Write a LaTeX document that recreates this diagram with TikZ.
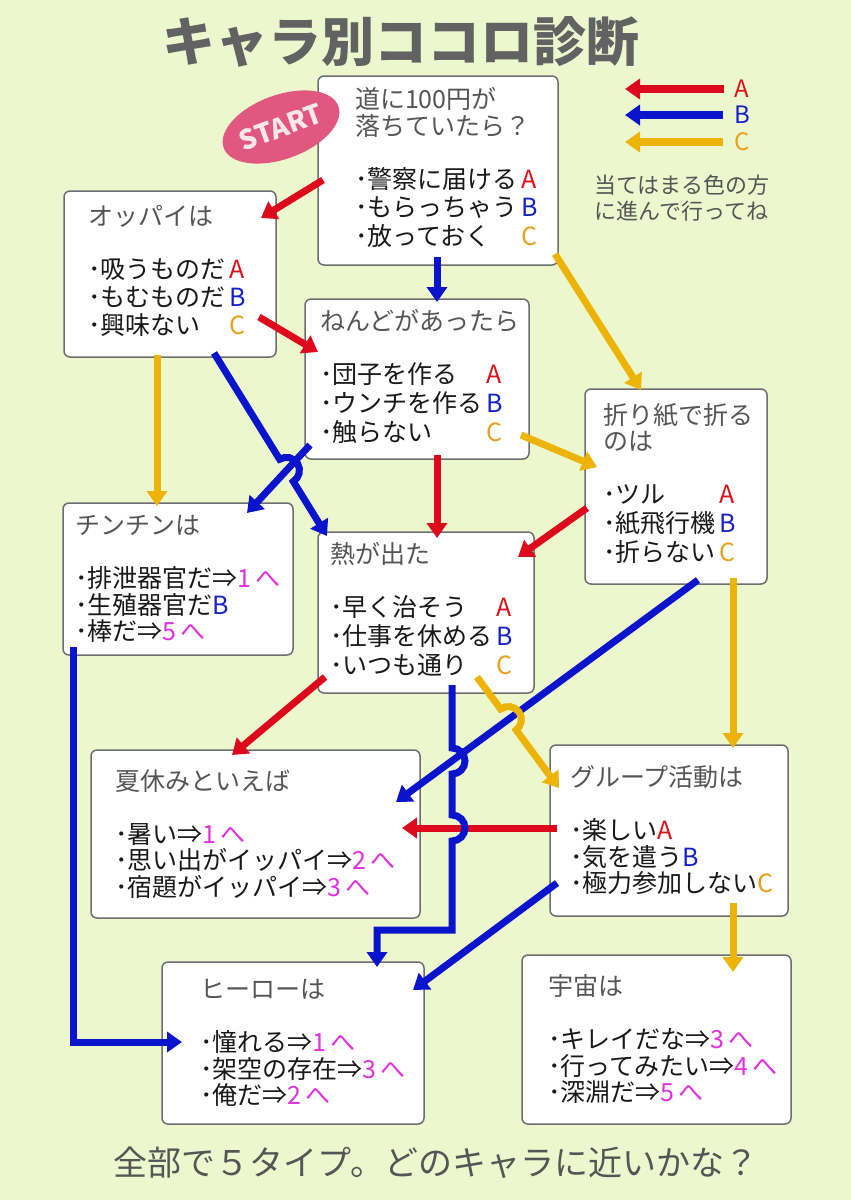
\documentclass[tikz,border=0pt]{standalone}
\usepackage{fontspec}
\setmainfont{Noto Sans CJK JP}
\usetikzlibrary{arrows.meta,calc,shapes.geometric}
\definecolor{bgcolor}{HTML}{EDF7CE}
\definecolor{cred}{HTML}{DC0A1C}
\definecolor{cblue}{HTML}{0A14CC}
\definecolor{cyellow}{HTML}{EEB405}
\definecolor{ansred}{HTML}{E0101A}
\definecolor{ansblue}{HTML}{1420CC}
\definecolor{ansorange}{HTML}{E8A21E}
\definecolor{cmag}{HTML}{E030DF}
\definecolor{headgray}{HTML}{555555}
\definecolor{titlegray}{HTML}{626262}
\definecolor{boxgray}{HTML}{6E6E6E}
\definecolor{startpink}{HTML}{E0577F}
\definecolor{startwhite}{HTML}{FBE6EC}
\newcommand{\ansA}{{\color{ansred}A}}
\newcommand{\ansB}{{\color{ansblue}B}}
\newcommand{\ansC}{{\color{ansorange}C}}
\newcommand{\gonum}[1]{{\color{cmag}#1\,へ}}
\newcommand{\qhead}[1]{{\color{headgray}#1}}
\newcommand{\hoprad}{13pt}

\tikzset{
  qbox/.style={draw=boxgray, fill=white, line width=1.5pt, rounded corners=6pt,
    align=left, inner ysep=0pt, text=black!90, font=\fontsize{25}{26.5}\selectfont},
  arr/.style={line width=7pt, -{Triangle[length=15pt,width=20pt]}},
  redarr/.style={arr, draw=cred},
  bluearr/.style={arr, draw=cblue},
  yelarr/.style={arr, draw=cyellow},
  titletext/.style={font=\bfseries\fontsize{53}{60}\selectfont},
}

\begin{document}
\begin{tikzpicture}[x=1pt,y=-1pt]
\useasboundingbox (0,0) rectangle (851,1200);
\fill[bgcolor] (0,0) rectangle (851,1200);

% title
\node[titletext, text=titlegray] (title) at (401,42) {キャラ別ココロ診断};

% boxes
\node[qbox, minimum height=189pt, inner xsep=37pt, text width=166pt] (q1) at (438,170.5) {%
\qhead{道に100円が}\\ \qhead{落ちていたら？}\\[26.5pt]
\begin{tabular}[t]{@{}l@{\,}l@{}}
･警察に届ける&\ansA\\
･もらっちゃう&\ansB\\
･放っておく&\ansC
\end{tabular}};
\node[qbox, minimum height=166pt, inner xsep=24pt, text width=164pt] (op) at (170,274) {%
\qhead{オッパイは}\\[26.5pt]
\begin{tabular}[t]{@{}l@{\,}l@{}}
･吸うものだ&\ansA\\
･もむものだ&\ansB\\
･興味ない&\ansC
\end{tabular}};
\node[qbox, minimum height=160pt, inner xsep=15pt, text width=194pt] (ne) at (417,379) {%
\qhead{ねんどがあったら}\\[26.5pt]
\begin{tabular}[t]{@{}l@{\,}l@{}}
･団子を作る&\ansA\\
･ウンチを作る&\ansB\\
･触らない&\ansC
\end{tabular}};
\node[qbox, minimum height=195pt, inner xsep=18pt, text width=146pt] (or) at (676,486.5) {%
\qhead{折り紙で折る}\\ \qhead{のは}\\[26.5pt]
\begin{tabular}[t]{@{}l@{\,}l@{}}
･ツル&\ansA\\
･紙飛行機&\ansB\\
･折らない&\ansC
\end{tabular}};
\node[qbox, minimum height=152pt, inner xsep=12pt, text width=206pt] (ch) at (178,579) {%
\qhead{チンチンは}\\[26.5pt]
･排泄器官だ⇒\gonum{1}\\
･生殖器官だ\ansB\\
･棒だ⇒\gonum{5}};
\node[qbox, minimum height=161pt, inner xsep=12pt, text width=192pt] (nt) at (426,612.5) {%
\qhead{熱が出た}\\[26.5pt]
\begin{tabular}[t]{@{}l@{\,}l@{}}
･早く治そう&\ansA\\
･仕事を休める&\ansB\\
･いつも通り&\ansC
\end{tabular}};
\node[qbox, minimum height=168pt, inner xsep=24pt, text width=281pt] (na) at (255.5,834) {%
\qhead{夏休みといえば}\\[26.5pt]
･暑い⇒\gonum{1}\\
･思い出がイッパイ⇒\gonum{2}\\
･宿題がイッパイ⇒\gonum{3}};
\node[qbox, minimum height=171pt, inner xsep=20pt, text width=198pt] (gr) at (669,830.5) {%
\qhead{グループ活動は}\\[26.5pt]
･楽しい\ansA\\
･気を遣う\ansB\\
･極力参加しない\ansC};
\node[qbox, minimum height=162pt, inner xsep=38pt, text width=186pt] (he) at (293,1043) {%
\qhead{ヒーローは}\\[26.5pt]
･憧れる⇒\gonum{1}\\
･架空の存在⇒\gonum{3}\\
･俺だ⇒\gonum{2}};
\node[qbox, minimum height=169pt, inner xsep=26pt, text width=217pt] (uc) at (656.5,1039.5) {%
\qhead{宇宙は}\\[26.5pt]
･キレイだな⇒\gonum{3}\\
･行ってみたい⇒\gonum{4}\\
･深淵だ⇒\gonum{5}};

% legend
\node[font=\fontsize{24}{26}\selectfont, text=ansred, inner sep=0pt] (la) at (742,89) {A};
\node[font=\fontsize{24}{26}\selectfont, text=ansblue, inner sep=0pt] (lb) at (742,115) {B};
\node[font=\fontsize{24}{26}\selectfont, text=ansorange, inner sep=0pt] (lc) at (742,142) {C};
\coordinate (la-t) at (625,89);
\coordinate (lb-t) at (625,115);
\coordinate (lc-t) at (625,142);
\draw[redarr, line width=8pt] ([xshift=-11pt]la.west) -- (la-t);
\draw[bluearr, line width=8pt] ([xshift=-11pt]lb.west) -- (lb-t);
\draw[yelarr, line width=8pt] ([xshift=-11pt]lc.west) -- (lc-t);
\node[font=\fontsize{22}{26}\selectfont, text=headgray, align=left] (guide) at (682,198) {当てはまる色の方\\に進んで行ってね};

% arrow ends
\coordinate (q1-a) at (323,180);  \coordinate (op-t) at (261,218);
\coordinate (q1-b) at (437,257);  \coordinate (ne-t) at (437,302);
\coordinate (q1-c) at (555,254);  \coordinate (or-t) at (641,390);
\coordinate (op-a) at (259,317);  \coordinate (ne-l) at (318,352);
\coordinate (op-c) at (157,355);  \coordinate (ch-t) at (157,506);
\coordinate (op-b) at (214,353);  \coordinate (nt-t) at (327,536);
\coordinate (ne-b) at (310,445);  \coordinate (ch-r) at (247,513);
\coordinate (ne-a) at (437,455);  \coordinate (nt-u) at (437,538);
\coordinate (ne-c) at (521,435);  \coordinate (or-l) at (597,467);
\coordinate (or-a) at (587,508);  \coordinate (nt-r) at (518,557);
\coordinate (or-b) at (698,580);  \coordinate (na-r) at (396,802);
\coordinate (or-c) at (733,578);  \coordinate (gr-t) at (733,748);
\coordinate (nt-a) at (325,677);  \coordinate (na-t) at (232,755);
\coordinate (nt-b) at (452,685);  \coordinate (he-t) at (377,967);
\coordinate (nt-c) at (477,677);  \coordinate (gr-l) at (559,788);
\coordinate (gr-a) at (557,828);  \coordinate (na-l) at (402,828);
\coordinate (gr-b) at (557,883);  \coordinate (he-r) at (413,990);
\coordinate (gr-c) at (733,903);  \coordinate (uc-t) at (733,972);
\coordinate (ch-b) at (73,647);   \coordinate (he-l) at (182,1042);

% A
\draw[redarr] (q1-a) -- (op-t);
\draw[redarr] (op-a) -- (ne-l);
\draw[redarr] (ne-a) -- (nt-u);
\draw[redarr] (or-a) -- (nt-r);
\draw[redarr] (nt-a) -- (na-t);
\draw[redarr] (gr-a) -- (na-l);
% C
\draw[yelarr] (q1-c) -- (or-t);
\draw[yelarr] (op-c) -- (ch-t);
\draw[yelarr] (ne-c) -- (or-l);
\draw[yelarr] (or-c) -- (gr-t);
\draw[yelarr] (gr-c) -- (uc-t);
% B
\draw[bluearr] (q1-b) -- (ne-t);
\draw[bluearr] (ne-b) -- (ch-r);
\draw[bluearr] (or-b) -- (na-r);
\draw[bluearr] (gr-b) -- (he-r);
\draw[bluearr] (ch-b) -- (ch-b |- he-l) -- (he-l);

% hops
\coordinate (x6) at (intersection of op-b--nt-t and ne-b--ch-r);
\coordinate (x12) at (intersection of nt-c--gr-l and or-b--na-r);
\coordinate (x13a) at (452,761);
\coordinate (x13b) at (nt-b |- gr-a);
\coordinate (bend1) at (452,930);
\coordinate (bend2) at (377,930);
\draw[bluearr] (op-b) -- ($(x6)!\hoprad!(op-b)$) arc[start angle=121.7, end angle=-58.3, radius=\hoprad] -- (nt-t);
\draw[yelarr] (nt-c) -- ($(x12)!\hoprad!(nt-c)$) arc[start angle=126.45, end angle=-53.55, radius=\hoprad] -- (gr-l);
\draw[bluearr] (nt-b) -- ($(x13a)+(0,-13)$) arc[start angle=90, end angle=-90, radius=\hoprad]
  -- ($(x13b)+(0,-13)$) arc[start angle=90, end angle=-90, radius=\hoprad]
  -- (bend1) -- (bend2) -- (he-t);

% start
\node[ellipse, fill=startpink, minimum width=120pt, minimum height=64pt, inner sep=0pt, rotate=20,
  text=startwhite, font=\bfseries\fontsize{27}{30}\selectfont] (start) at (281,127) {START};

% footer
\node[font=\fontsize{34}{40}\selectfont, text=headgray] (footer) at (436,1163) {全部で５タイプ。どのキャラに近いかな？};
\end{tikzpicture}
\end{document}
